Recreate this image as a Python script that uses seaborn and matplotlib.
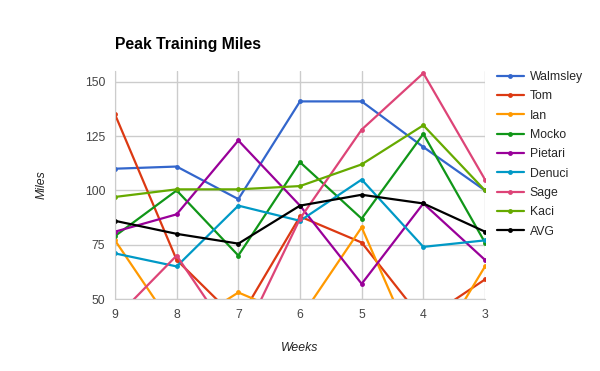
import pandas as pd
import matplotlib
matplotlib.use("Agg")
import matplotlib.pyplot as plt
import seaborn as sns

# semaines (axe x, de 9 à 3)
weeks = ["9", "8", "7", "6", "5", "4", "3"]

walmsley = [110, 111, 96, 141, 141, 120, 100]
tom = [135, 68, 40, 88, 76, 40, 59]
ian = [77, 35, 53, 41, 83, 18, 65]
mocko = [79, 100, 70, 113, 87, 126, 76]
pietari = [81, 89, 123, 93, 57, 94, 68]
denuci = [71, 65, 93, 86, 105, 74, 77]
sage = [41, 70, 28, 87, 128, 154, 105]
kaci = [97, 100.5, 100.5, 102, 112, 130, 100]
avg = [86, 80, 75.5, 93, 98, 94, 81]

runners = ["Walmsley", "Tom", "Ian", "Mocko", "Pietari", "Denuci", "Sage", "Kaci", "AVG"]
series = [walmsley, tom, ian, mocko, pietari, denuci, sage, kaci, avg]
colors = ["#3366cc", "#dc3912", "#ff9900", "#109618", "#990099",
          "#0099c6", "#dd4477", "#66aa00", "#000000"]

# format long pour seaborn
rows = []
for name, vals in zip(runners, series):
    for i, v in enumerate(vals):
        rows.append({"pos": i, "miles": v, "runner": name})
df = pd.DataFrame(rows)

sns.set_style("white")
plt.rcParams["font.family"] = ["Liberation Sans", "DejaVu Sans"]

fig = plt.figure(figsize=(6, 3.71), dpi=100)
ax = fig.add_axes([115 / 600, 1 - 299 / 371, 370 / 600, 228 / 371])

sns.lineplot(data=df, x="pos", y="miles", hue="runner", hue_order=runners,
             palette=colors, marker="o", markersize=3.5, markeredgewidth=0,
             linewidth=1.6, sort=False, ax=ax, legend=True)

ax.set_xlim(0, len(weeks) - 1)
ax.set_ylim(50, 155)
ax.set_xticks(range(len(weeks)))
ax.set_xticklabels(weeks)
ax.set_yticks([50, 75, 100, 125, 150])
ax.grid(True, color="#cccccc", linewidth=1)
ax.set_axisbelow(True)
for side in ["top", "right"]:
    ax.spines[side].set_visible(False)
for side in ["left", "bottom"]:
    ax.spines[side].set_color("#cccccc")
ax.tick_params(axis="both", length=0, labelsize=8.8, colors="#444444", pad=7)

ax.set_xlabel("Weeks", fontsize=8.8, style="italic", color="#222222", labelpad=15)
ax.set_ylabel("Miles", fontsize=8.8, style="italic", color="#222222", labelpad=27)

ax.text(0, 1.085, "Peak Training Miles", transform=ax.transAxes, fontsize=11.3,
        fontweight="bold", color="#000000", ha="left", va="bottom")

handles, labels = ax.get_legend_handles_labels()
ax.legend(handles, labels, loc="upper left", bbox_to_anchor=(492 / 600, 1 - 66 / 371),
          bbox_transform=fig.transFigure, frameon=False, fontsize=8.8,
          handlelength=2.2, handletextpad=0.5, labelspacing=0.6, borderaxespad=0)

fig.savefig("out.png", dpi=100)
